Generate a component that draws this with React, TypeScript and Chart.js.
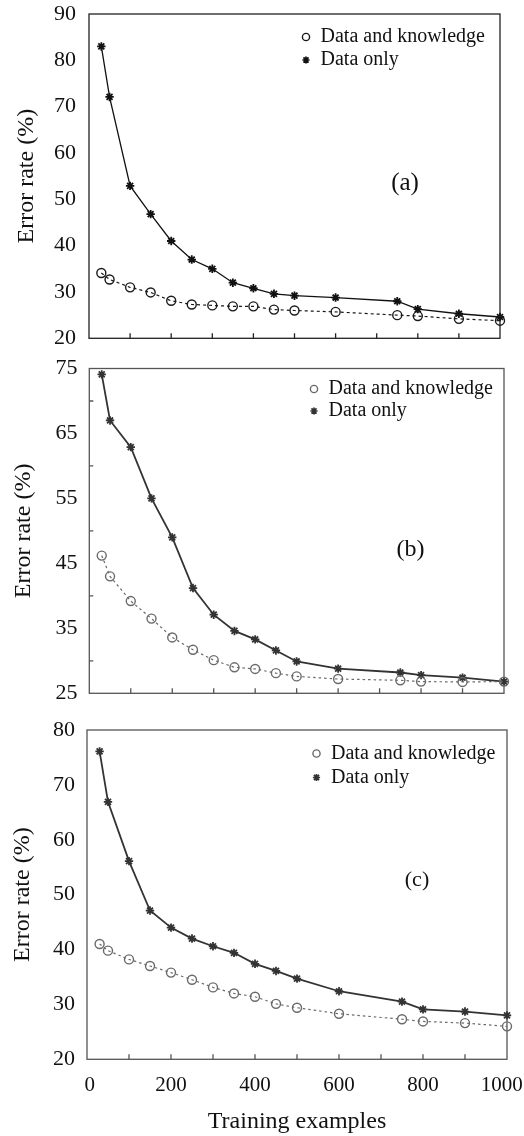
import React, { useEffect, useRef } from "react";
import { Chart, registerables } from "chart.js";

Chart.register(...registerables);

// ---------------- data ----------------
const trainingExamples = [30, 50, 100, 150, 200, 250, 300, 350, 400, 450, 500, 600, 750, 800, 900, 1000];

const seriesNames = ["Data and knowledge", "Data only"];
const panelLabels = ["(a)", "(b)", "(c)"];
const yAxisTitle = "Error rate (%)";
const xAxisTitle = "Training examples";

const aKnowledge = [34.1, 32.7, 31.0, 29.9, 28.1, 27.3, 27.1, 26.9, 26.9, 26.2, 26.0, 25.7, 25.0, 24.8, 24.2, 23.8];
const aDataOnly = [83.0, 72.1, 52.9, 46.8, 41.0, 37.0, 35.0, 32.0, 30.8, 29.6, 29.2, 28.8, 28.0, 26.3, 25.3, 24.6];

const bKnowledge = [46.2, 43.0, 39.2, 36.5, 33.6, 31.7, 30.1, 29.0, 28.75, 28.1, 27.6, 27.2, 27.0, 26.8, 26.75, 26.8];
const bDataOnly = [74.1, 67.0, 62.9, 55.0, 49.0, 41.2, 37.1, 34.6, 33.3, 31.6, 29.9, 28.8, 28.2, 27.8, 27.4, 26.8];

const cKnowledge = [41.0, 39.8, 38.2, 37.0, 35.8, 34.5, 33.1, 32.0, 31.4, 30.1, 29.4, 28.3, 27.3, 26.9, 26.6, 26.0];
const cDataOnly = [76.1, 66.9, 56.1, 47.1, 44.0, 42.0, 40.6, 39.4, 37.4, 36.1, 34.7, 32.4, 30.5, 29.1, 28.7, 28.0];

const aYTicks = [20, 30, 40, 50, 60, 70, 80, 90];
const bYTicks = [25, 35, 45, 55, 65, 75];
const cYTicks = [20, 30, 40, 50, 60, 70, 80];
const xTickLabels = [0, 200, 400, 600, 800, 1000];
const xMinorTicks = [100, 200, 300, 400, 500, 600, 700, 800, 900];

// ---------------- layout (page px) ----------------
const FONT = "'Liberation Serif', 'Times New Roman', serif";
const W = 524;

type PanelCfg = {
  top: number;
  height: number;
  left: number;
  right: number;
  plotTop: number;
  plotBottom: number;
  knowledge: number[];
  dataOnly: number[];
  yTicks: number[];
  yMinor: number[];
  label: string;
  labelX: number;
  labelY: number;
  labelSize: number;
  legendTextX: number;
  legendMarkX: number;
  legendY1: number;
  legendY2: number;
  knowColor: string;
  onlyColor: string;
  boxColor: string;
  showX: boolean;
  yTitleX: number;
  tickRight: number;
  dash: number[];
  onlyWidth: number;
};

const panels: PanelCfg[] = [
  {
    top: 0, height: 350, left: 89, right: 500, plotTop: 14, plotBottom: 338.3,
    knowledge: aKnowledge, dataOnly: aDataOnly, yTicks: aYTicks, yMinor: [],
    label: panelLabels[0], labelX: 405, labelY: 183, labelSize: 25,
    legendTextX: 320.5, legendMarkX: 306, legendY1: 37, legendY2: 60,
    knowColor: "#1a1a1a", onlyColor: "#111", boxColor: "#222",
    showX: false, yTitleX: 27, tickRight: 76, dash: [3, 3], onlyWidth: 1.3,
  },
  {
    top: 350, height: 355, left: 89.3, right: 504, plotTop: 368.5, plotBottom: 693.3,
    knowledge: bKnowledge, dataOnly: bDataOnly, yTicks: bYTicks, yMinor: [30, 40, 50, 60, 70],
    label: panelLabels[1], labelX: 410.5, labelY: 550, labelSize: 24,
    legendTextX: 328.5, legendMarkX: 314, legendY1: 389, legendY2: 411,
    knowColor: "#6a6a6a", onlyColor: "#333", boxColor: "#555",
    showX: false, yTitleX: 24, tickRight: 77.5, dash: [2.5, 3], onlyWidth: 1.8,
  },
  {
    top: 705, height: 431, left: 87, right: 507, plotTop: 730, plotBottom: 1059.3,
    knowledge: cKnowledge, dataOnly: cDataOnly, yTicks: cYTicks, yMinor: [],
    label: panelLabels[2], labelX: 417, labelY: 880.5, labelSize: 22,
    legendTextX: 331, legendMarkX: 316.5, legendY1: 753.5, legendY2: 777.5,
    knowColor: "#6a6a6a", onlyColor: "#333", boxColor: "#555",
    showX: true, yTitleX: 22.5, tickRight: 75, dash: [2.5, 3], onlyWidth: 1.8,
  },
];

function drawStar(ctx: CanvasRenderingContext2D, x: number, y: number, r: number) {
  ctx.beginPath();
  ctx.moveTo(x, y - r);
  ctx.lineTo(x, y + r);
  ctx.moveTo(x - r, y);
  ctx.lineTo(x + r, y);
  const d = r * Math.SQRT1_2;
  ctx.moveTo(x - d, y - d);
  ctx.lineTo(x + d, y + d);
  ctx.moveTo(x + d, y - d);
  ctx.lineTo(x - d, y + d);
  ctx.stroke();
}

function zeroPad(s: any) {
  s.paddingLeft = 0;
  s.paddingRight = 0;
  s.paddingTop = 0;
  s.paddingBottom = 0;
}

function Panel({ cfg }: { cfg: PanelCfg }) {
  const ref = useRef<HTMLCanvasElement | null>(null);

  useEffect(() => {
    const canvas = ref.current;
    if (!canvas) return;
    const yMin = cfg.yTicks[0];
    const yMax = cfg.yTicks[cfg.yTicks.length - 1];
    const yStep = cfg.yTicks[1] - cfg.yTicks[0];

    const decor = {
      id: "decor" + cfg.label,
      beforeDatasetsDraw(chart: any) {
        const { ctx, chartArea, scales } = chart;
        ctx.save();
        ctx.strokeStyle = cfg.boxColor;
        ctx.lineWidth = 1.3;
        ctx.strokeRect(chartArea.left, chartArea.top, chartArea.right - chartArea.left, chartArea.bottom - chartArea.top);
        ctx.beginPath();
        for (const v of xMinorTicks) {
          const px = scales.x.getPixelForValue(v);
          ctx.moveTo(px, chartArea.bottom);
          ctx.lineTo(px, chartArea.bottom - 5);
        }
        for (const v of cfg.yMinor) {
          const py = scales.y.getPixelForValue(v);
          ctx.moveTo(chartArea.left, py);
          ctx.lineTo(chartArea.left + 4, py);
        }
        ctx.stroke();
        ctx.restore();
      },
      afterDraw(chart: any) {
        const { ctx } = chart;
        const off = cfg.top;
        ctx.save();
        // legend
        ctx.font = `20px ${FONT}`;
        ctx.textBaseline = "middle";
        ctx.textAlign = "left";
        ctx.fillStyle = "#111";
        ctx.fillText(seriesNames[0], cfg.legendTextX, cfg.legendY1 - off);
        ctx.fillText(seriesNames[1], cfg.legendTextX, cfg.legendY2 - off);
        ctx.strokeStyle = cfg.knowColor;
        ctx.lineWidth = 1.4;
        ctx.beginPath();
        ctx.arc(cfg.legendMarkX, cfg.legendY1 - off, 3.6, 0, Math.PI * 2);
        ctx.stroke();
        ctx.strokeStyle = cfg.onlyColor;
        ctx.lineWidth = 1.7;
        drawStar(ctx, cfg.legendMarkX, cfg.legendY2 - off, 3.6);
        // panel label
        ctx.font = `${cfg.labelSize}px ${FONT}`;
        ctx.textAlign = "center";
        ctx.fillText(cfg.label, cfg.labelX, cfg.labelY - off);
        ctx.restore();
      },
    };

    const chart = new Chart(canvas, {
      type: "line",
      data: {
        labels: trainingExamples,
        datasets: [
          {
            label: seriesNames[0],
            data: trainingExamples.map((x, i) => ({ x, y: cfg.knowledge[i] })),
            borderColor: cfg.knowColor,
            borderWidth: 1.2,
            borderDash: cfg.dash,
            backgroundColor: "rgba(0,0,0,0)",
            pointStyle: "circle",
            pointRadius: 4.5,
            pointBorderWidth: 1.4,
            pointBorderColor: cfg.knowColor,
            pointBackgroundColor: "rgba(0,0,0,0)",
            tension: 0,
            clip: false as any,
          },
          {
            label: seriesNames[1],
            data: trainingExamples.map((x, i) => ({ x, y: cfg.dataOnly[i] })),
            borderColor: cfg.onlyColor,
            borderWidth: cfg.onlyWidth,
            backgroundColor: "rgba(0,0,0,0)",
            pointStyle: "star",
            pointRadius: 4.2,
            pointBorderWidth: 1.8,
            pointBorderColor: cfg.onlyColor,
            pointBackgroundColor: cfg.onlyColor,
            tension: 0,
            clip: false as any,
          },
        ],
      },
      options: {
        animation: false,
        responsive: false,
        events: [],
        layout: {
          autoPadding: false,
          padding: { left: 0, right: W - cfg.right, top: cfg.plotTop - cfg.top, bottom: 0 },
        },
        plugins: { legend: { display: false }, tooltip: { enabled: false } },
        scales: {
          x: {
            type: "linear",
            min: 0,
            max: 1000,
            grid: { display: false, drawTicks: false },
            border: { display: false },
            ticks: {
              display: cfg.showX,
              stepSize: 200,
              autoSkip: false,
              maxRotation: 0,
              padding: 14,
              color: "#111",
              font: { family: FONT, size: 21 },
              callback: (v: any) => {
                const n = Number(v);
                if (!xTickLabels.includes(n)) return "";
                if (n === 0) return " 0";
                if (n === 1000) return "1000  ";
                return String(n);
              },
            },
            title: {
              display: cfg.showX,
              text: xAxisTitle,
              color: "#111",
              font: { family: FONT, size: 24 },
              padding: 0,
            },
            afterFit: (s: any) => {
              s.height = cfg.top + cfg.height - cfg.plotBottom;
              zeroPad(s);
            },
          },
          y: {
            type: "linear",
            min: yMin,
            max: yMax,
            grid: { display: false, drawTicks: false },
            border: { display: false },
            ticks: {
              stepSize: yStep,
              autoSkip: false,
              padding: cfg.left - cfg.tickRight,
              color: "#111",
              font: { family: FONT, size: 22 },
            },
            title: {
              display: true,
              text: yAxisTitle,
              color: "#111",
              font: { family: FONT, size: 24 },
              padding: { top: cfg.yTitleX - 14.4, bottom: 0 },
            },
            afterFit: (s: any) => {
              s.width = cfg.left;
              zeroPad(s);
            },
          },
        },
      },
      plugins: [decor],
    } as any);

    return () => chart.destroy();
  }, [cfg]);

  return (
    <canvas
      ref={ref}
      width={W}
      height={cfg.height}
      style={{ position: "absolute", left: 0, top: cfg.top, width: W, height: cfg.height, display: "block" }}
    />
  );
}

export default function App() {
  return (
    <div style={{ position: "absolute", left: 0, top: 0, width: W, height: 1136, background: "#fff" }}>
      {panels.map((p) => (
        <Panel key={p.label} cfg={p} />
      ))}
    </div>
  );
}
